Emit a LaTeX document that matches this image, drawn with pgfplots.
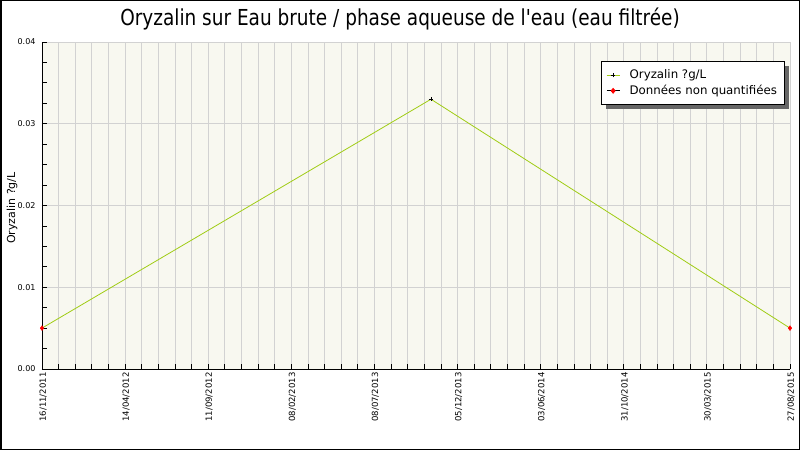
\documentclass[border=0pt]{standalone}
\usepackage{pgfplots}
\pgfplotsset{compat=1.18}
\usepackage{fontspec}
\setmainfont{DejaVu Sans}[Ligatures=TeXOff]
\newfontfamily\narrowfont{DejaVu Sans}[FakeStretch=0.84, Ligatures=TeXOff]
\definecolor{bgc}{RGB}{248,248,240}
\definecolor{gridc}{RGB}{210,210,210}
\definecolor{linec}{RGB}{160,204,20}
\begin{document}
\begin{tikzpicture}[x=1pt,y=1pt]
\useasboundingbox (0,0) rectangle (800,450);
\fill[white] (0,0) rectangle (800,450);
\node[font=\narrowfont\fontsize{22}{24}\selectfont] at (400,431) {Oryzalin sur Eau brute / phase aqueuse de l'eau (eau filtrée)};
\node[rotate=90, font=\fontsize{11}{12}\selectfont] at (12,242) {Oryzalin ?g/L};
\begin{axis}[
  at={(42pt,81pt)}, anchor=south west,
  scale only axis, width=748pt, height=327pt,
  xmin=0, xmax=9, ymin=0, ymax=0.04,
  clip=false,
  axis background/.style={fill=bgc},
  axis x line*=bottom, axis y line*=left,
  axis line style={black, line width=0.8pt, -},
  xtick={0,...,9},
  xticklabels={16/11/2011,14/04/2012,11/09/2012,08/02/2013,08/07/2013,05/12/2013,03/06/2014,31/10/2014,30/03/2015,27/08/2015},
  minor x tick num=4,
  ytick={0,0.01,0.02,0.03,0.04},
  minor y tick num=3,
  /pgf/number format/assume math mode=true,
  yticklabel style={/pgf/number format/fixed, /pgf/number format/fixed zerofill, /pgf/number format/precision=2, font=\fontsize{8}{9}\selectfont, xshift=-3pt},
  scaled y ticks=false,
  xticklabel style={rotate=90, anchor=east, font=\fontsize{8.5}{9}\selectfont, yshift=-1pt},
  tick align=inside, major tick length=5pt, minor tick length=5pt,
  tick style={black, line width=0.8pt},
  xmajorgrids, xminorgrids, ymajorgrids,
  grid style={gridc, line width=0.8pt},
  minor grid style={gridc, line width=0.8pt},
  legend style={at={(0.747,0.942)}, anchor=north west, draw=black, fill=white, line width=0.8pt,
    font=\fontsize{11.8}{13}\selectfont, inner xsep=5pt, inner ysep=6.5pt, row sep=1pt, column sep=7.6pt},
  legend cell align=left,
]
\addplot[linec, line width=0.8pt, mark=+, mark indices={2}, mark options={black, line width=0.8pt}, mark size=2.2pt,
  legend image code/.code={
    \draw[draw=linec, line width=1.1pt] (0cm,0cm) -- (0.45cm,0cm);
    \draw[draw=black, line width=0.8pt] (0.225cm-2.2pt,0cm) -- (0.225cm+2.2pt,0cm) (0.225cm,-2.2pt) -- (0.225cm,2.2pt);}]
  coordinates {(0,0.005) (4.68,0.033) (9,0.005)};
\addlegendentry{Oryzalin ?g/L}
\addplot[only marks, mark=diamond*, red, mark size=2.4pt,
  legend image code/.code={
    \draw[draw=black, line width=1.1pt] (0cm,0cm) -- (0.45cm,0cm);
    \fill[fill=red] (0.225cm-2pt,0cm) -- (0.225cm,2.4pt) -- (0.225cm+2pt,0cm) -- (0.225cm,-2.4pt) -- cycle;}]
  coordinates {(0,0.005) (9,0.005)};
\addlegendentry{Données non quantifiées}
\fill[black!60] (axis description cs:0.754,0.9266) rectangle (axis description cs:0.9987,0.795);
\end{axis}
\draw[line width=1.5pt] (0.75,0.75) rectangle (799.25,449.25);
\end{tikzpicture}
\end{document}
